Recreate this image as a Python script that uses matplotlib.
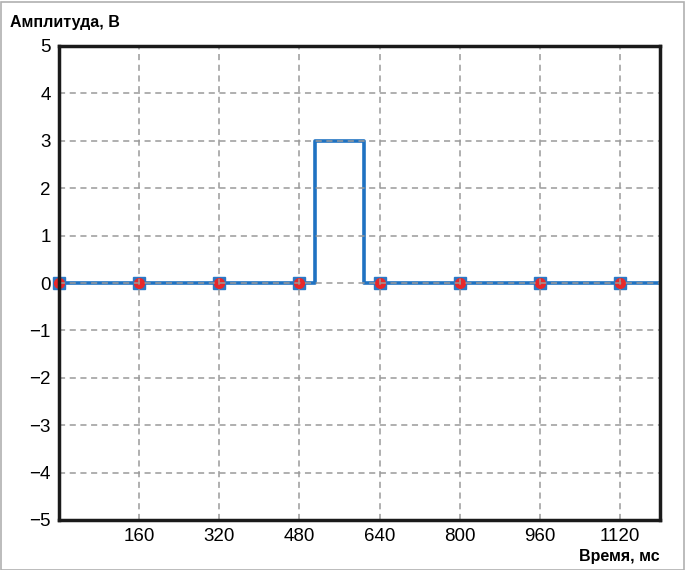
import matplotlib.pyplot as plt
from matplotlib.patches import Rectangle
from matplotlib import font_manager
import numpy as np

# step signal (time in ms, amplitude in V)
pulse_start = 512
pulse_end = 608
pulse_amp = 3
t_end = 1200
sample_times = [0, 160, 320, 480, 640, 800, 960, 1120]
sample_values = [0, 0, 0, 0, 0, 0, 0, 0]
xticks = [160, 320, 480, 640, 800, 960, 1120]
yticks = [-5, -4, -3, -2, -1, 0, 1, 2, 3, 4, 5]

names = {f.name for f in font_manager.fontManager.ttflist}
fam = 'Liberation Sans Narrow' if 'Liberation Sans Narrow' in names else 'Liberation Sans'
plt.rcParams['font.family'] = [fam, 'DejaVu Sans']

fig = plt.figure(figsize=(6.88, 5.70), dpi=100)
ax = fig.add_axes([59/688, 1 - 520/570, 601/688, 474/570])

line_t = [0, pulse_start, pulse_start, pulse_end, pulse_end, t_end]
line_v = [0, 0, pulse_amp, pulse_amp, 0, 0]
ax.plot(line_t, line_v, color='#1f72c2', lw=2.6, zorder=1.5)
ax.plot(sample_times, sample_values, 's', ms=9, color='#2b78c6', zorder=1.6, clip_on=False)
ax.plot(sample_times, sample_values, 'o', ms=7, color='#e8282a', zorder=1.7, clip_on=False)

ax.set_xlim(0, t_end)
ax.set_ylim(-5, 5)
ax.set_xticks(xticks)
ax.set_yticks(yticks)
ax.set_yticklabels([str(v).replace('-', '\u2212') for v in yticks])
ax.tick_params(length=0, labelsize=13.5, pad=6)
ax.set_axisbelow(False)
ax.grid(True, color='#9a9a9a', ls=(0, (4, 3)), lw=1.1)
for s in ax.spines.values():
    s.set_linewidth(2.5)
    s.set_color('#1a1a1a')
    s.set_zorder(3)

fig.text(10/688, 1 - 22/570, 'Амплитуда, В', fontsize=11.5, fontweight='bold', va='center', ha='left')
fig.text(660/688, 1 - 557/570, 'Время, мс', fontsize=11.5, fontweight='bold', va='center', ha='right')

fig.patches.append(Rectangle((0.5/688, 0), 683/688, 1 - 2/570, transform=fig.transFigure,
                             fill=False, edgecolor='#b0b0b0', lw=1.2))

fig.savefig('out.png', dpi=100)
